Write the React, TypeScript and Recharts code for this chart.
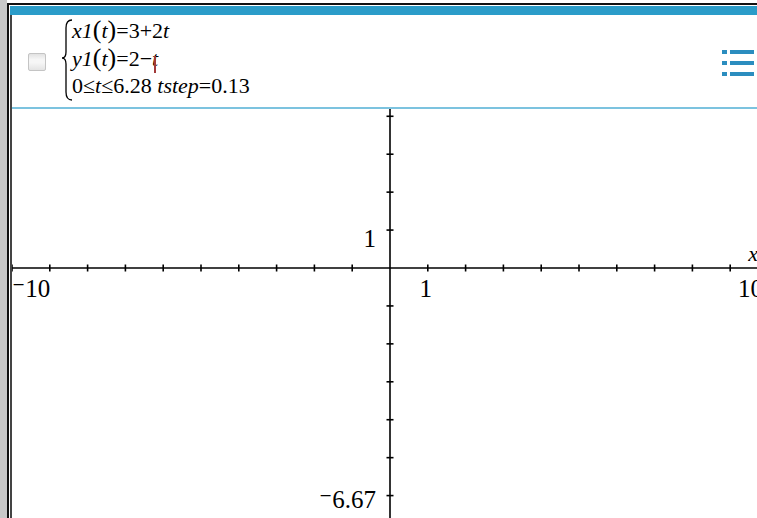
import { ScatterChart, Scatter, XAxis, YAxis, ReferenceLine, ReferenceDot } from "recharts"

// window of the graph (TI-Nspire default)
const xDomain: [number, number] = [-10, 10]
const yDomain: [number, number] = [-6.67, 6.67]

const xTickValues = [-10, -9, -8, -7, -6, -5, -4, -3, -2, -1, 1, 2, 3, 4, 5, 6, 7, 8, 9, 10]
const yTickValues = [-6, -5, -4, -3, -2, -1, 1, 2, 3, 4, 5, 6]

// axis labels: value on the axis and shown text
const xAxisLabels = [
  { x: -10, text: "⁻10", anchor: "start", dx: 0 },
  { x: 1, text: "1", anchor: "middle", dx: -2 },
  { x: 10, text: "10", anchor: "end", dx: -5 },
]
const yAxisLabels = [
  { y: 1, text: "1", dy: 17 },
  { y: -6.67, text: "⁻6.67", dy: -13 },
]

const W = 756
const H = 506
const LABEL_FONT = "'Liberation Serif', 'DejaVu Serif', serif"

const hTick = (props: any) => (
  <line x1={props.cx} x2={props.cx} y1={props.cy - 3.5} y2={props.cy + 3.5} stroke="#000" strokeWidth={1.6} />
)
const vTick = (props: any) => (
  <line x1={props.cx - 3.5} x2={props.cx + 3.5} y1={props.cy} y2={props.cy} stroke="#000" strokeWidth={1.6} />
)

function Header() {
  const line: React.CSSProperties = {
    position: "absolute",
    fontFamily: LABEL_FONT,
    fontSize: 22,
    lineHeight: "22px",
    whiteSpace: "nowrap",
    color: "#000",
  }
  const paren: React.CSSProperties = { fontSize: 26 }
  return (
    <div style={{ position: "absolute", left: 12, top: 15, width: 745, height: 94, background: "#fff" }}>
      <div style={{ position: "absolute", left: 0, right: 0, bottom: 0, height: 2, background: "#7cc3df" }} />
      <div
        style={{
          position: "absolute", left: 16, top: 38, width: 16, height: 16,
          border: "1px solid #c4c4c4", borderRadius: 2,
          background: "linear-gradient(#e2e2e2 0%, #f6f6f6 35%, #f6f6f6 55%, #e4e4e4 100%)",
        }}
      />
      <svg style={{ position: "absolute", left: 48, top: 0 }} width={14} height={94}>
        <path d="M 12 5 Q 6 5 6 13 L 6 37 Q 6 43 2 43 Q 6 43 6 49 L 6 77 Q 6 85 12 85" fill="none" stroke="#000" strokeWidth={1.3} />
      </svg>
      <div style={{ ...line, left: 60, top: 4 }}>
        <i>x1</i><span style={paren}>(</span><i>t</i><span style={paren}>)</span>=3+2<i>t</i>
      </div>
      <div style={{ ...line, left: 60, top: 32 }}>
        <i>y1</i><span style={paren}>(</span><i>t</i><span style={paren}>)</span>=2−<i>t</i>
      </div>
      <div style={{ position: "absolute", left: 142, top: 41, width: 2, height: 17, background: "#a23a3a" }} />
      <div style={{ ...line, left: 60, top: 60 }}>
        0≤<i>t</i>≤6.28 <i>tstep</i>=0.13
      </div>
      {[0, 1, 2].map((i) => (
        <div key={i}>
          <div style={{ position: "absolute", left: 710, top: 35 + i * 11, width: 5, height: 4, background: "#2b8dbf" }} />
          <div style={{ position: "absolute", left: 718, top: 35 + i * 11, width: 24, height: 4, background: "#2b8dbf" }} />
        </div>
      ))}
    </div>
  )
}

export default function App() {
  return (
    <div style={{ position: "relative", width: 757, height: 518, overflow: "hidden", background: "#fff" }}>
      <style>{`body{margin:0}`}</style>
      {/* frame */}
      <div style={{ position: "absolute", left: 0, top: 0, width: 7, height: 518, background: "#c8c8c8" }} />
      <div style={{ position: "absolute", left: 7, top: 3, width: 1.5, height: 515, background: "#111" }} />
      <div style={{ position: "absolute", left: 7, top: 3, width: 750, height: 1.5, background: "#111" }} />
      <div style={{ position: "absolute", left: 10, top: 6, width: 747, height: 9, background: "#2b9cc9" }} />
      <div style={{ position: "absolute", left: 10, top: 15, width: 2, height: 503, background: "#444" }} />

      <div style={{ position: "absolute", left: 12, top: 15 }}>
        <ScatterChart width={W} height={H} margin={{ top: 0, right: 0, bottom: 0, left: 0 }}>
          <XAxis type="number" dataKey="x" domain={xDomain} hide allowDataOverflow />
          <YAxis type="number" dataKey="y" domain={yDomain} hide allowDataOverflow />
          <Scatter data={[]} isAnimationActive={false} />
          <ReferenceLine y={0} stroke="#000" strokeWidth={1.6} />
          <ReferenceLine x={0} stroke="#000" strokeWidth={1.6} />
          {xTickValues.map((v) => (
            <ReferenceDot key={`xt${v}`} x={v} y={0} r={0} shape={hTick} ifOverflow="visible" />
          ))}
          {yTickValues.map((v) => (
            <ReferenceDot key={`yt${v}`} x={0} y={v} r={0} shape={vTick} ifOverflow="visible" />
          ))}
          {xAxisLabels.map((l) => (
            <ReferenceDot
              key={`xl${l.x}`}
              x={l.x}
              y={0}
              r={0}
              ifOverflow="visible"
              shape={(p: any) => (
                <text x={p.cx + l.dx} y={p.cy + 29} textAnchor={l.anchor as any} fontFamily={LABEL_FONT} fontSize={25} fill="#000">
                  {l.text}
                </text>
              )}
            />
          ))}
          <ReferenceDot
            x={xDomain[1]}
            y={0}
            r={0}
            ifOverflow="visible"
            shape={(p: any) => (
              <text x={p.cx - 10} y={p.cy - 7} textAnchor="end" fontFamily={LABEL_FONT} fontStyle="italic" fontSize={22} fill="#000">
                x
              </text>
            )}
          />
          {yAxisLabels.map((l) => (
            <ReferenceDot
              key={`yl${l.y}`}
              x={0}
              y={l.y}
              r={0}
              ifOverflow="visible"
              shape={(p: any) => (
                <text x={p.cx - 14} y={p.cy + l.dy} textAnchor="end" fontFamily={LABEL_FONT} fontSize={25} fill="#000">
                  {l.text}
                </text>
              )}
            />
          ))}
        </ScatterChart>
      </div>
      <Header />
    </div>
  )
}
